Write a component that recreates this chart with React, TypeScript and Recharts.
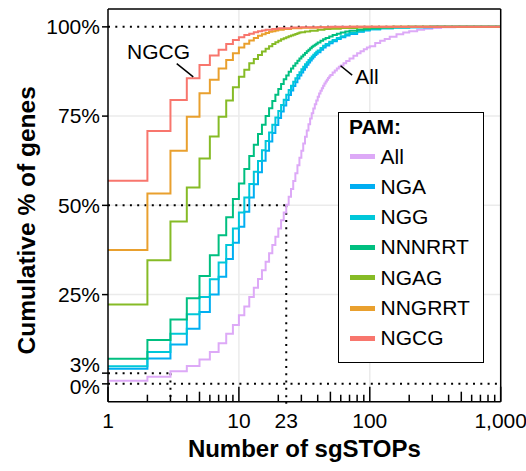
import { LineChart, Line, XAxis, YAxis, ReferenceLine, ReferenceDot, Legend } from "recharts";

const FONT = '"Liberation Sans", Arial, Helvetica, sans-serif';

const pamNames = ["All", "NGA", "NGG", "NNNRRT", "NGAG", "NNGRRT", "NGCG"];
const pamColors = ["#DDA9F7", "#00AEF2", "#00C7D9", "#00BF80", "#86BB26", "#E9A02E", "#F8766D"];

// cumulative % of genes with <= n sgSTOPs; the *Dense arrays start at n = 1 and go up by 1
const allDense = [
  0.9, 2.0, 3.5, 5.0, 6.8, 8.9, 11.4, 14.0, 16.5, 19.2,
  21.7, 24.3, 26.9, 29.4, 31.8, 34.2, 36.6, 38.9, 41.2, 43.5,
  45.8, 48.0, 50.2, 52.4, 54.6, 56.8, 59.0, 61.2, 63.3, 65.3,
  67.3, 69.2, 71.0, 72.7, 74.3, 75.8, 77.1, 78.3, 79.4, 80.4,
  81.3, 82.1, 82.8, 83.5, 84.1, 84.7, 85.2, 85.7, 86.1, 86.5,
];
const allTail = [
  [52, 87.2], [54, 87.8], [56, 88.3], [58, 88.8], [60, 89.2], [63, 89.8], [66, 90.4], [70, 91.1],
  [75, 91.9], [80, 92.6], [85, 93.2], [90, 93.7], [95, 94.2], [100, 94.6], [110, 95.5], [120, 96.1],
  [130, 96.6], [142, 97.2], [160, 97.9], [180, 98.4], [200, 98.8], [230, 99.2], [260, 99.5],
  [300, 99.7], [350, 99.9], [450, 100],
];

const ngaDense = [
  4.2, 7.1, 11.0, 15.4, 20.1, 25.0, 30.0, 35.0, 39.5, 44.0,
  48.2, 52.2, 55.9, 59.3, 62.5, 65.3, 67.9, 70.3, 72.5, 74.5,
  76.3, 78.0, 79.5, 80.9, 82.2, 83.4, 84.5, 85.5, 86.4, 87.2,
  88.0, 88.7, 89.4, 90.0, 90.6, 91.1, 91.6, 92.1, 92.5, 92.9,
];
const ngaTail = [
  [42, 93.6], [44, 94.2], [46, 94.8], [49, 95.4], [52, 96.0], [56, 96.6], [60, 97.1], [65, 97.6],
  [70, 98.0], [80, 98.6], [90, 99.0], [100, 99.3], [120, 99.6], [150, 99.8], [200, 99.9], [300, 100],
];

const nggDense = [
  4.9, 8.9, 14.0, 19.5, 24.3, 29.3, 34.0, 38.9, 43.5, 48.0,
  52.2, 56.0, 59.4, 62.4, 65.4, 68.0, 70.4, 72.6, 74.6, 76.4,
  78.1, 79.6, 81.0, 82.3, 83.5, 84.6, 85.6, 86.5, 87.3, 88.1,
  88.8, 89.5, 90.1, 90.7, 91.2, 91.7, 92.2, 92.6, 93.0, 93.4,
];
const nggTail = [
  [42, 94.1], [44, 94.7], [46, 95.2], [49, 95.8], [52, 96.3], [56, 96.9], [60, 97.4], [65, 97.9],
  [70, 98.3], [80, 98.8], [90, 99.1], [100, 99.35], [120, 99.6], [150, 99.8], [200, 99.9], [300, 100],
];

const nnnrrtDense = [
  7.0, 12.3, 18.0, 24.0, 30.2, 36.0, 41.6, 46.7, 51.8, 56.1,
  60.2, 63.8, 67.0, 70.0, 72.6, 75.0, 77.2, 79.2, 81.0, 82.6,
  84.0, 85.3, 86.4, 87.4, 88.3, 89.1, 89.8, 90.5, 91.1, 91.7,
  92.2, 92.7, 93.2, 93.6, 94.0, 94.4, 94.7, 95.0, 95.3, 95.6,
];
const nnnrrtTail = [
  [42, 96.1], [44, 96.5], [46, 96.9], [49, 97.3], [52, 97.7], [56, 98.1], [60, 98.4], [65, 98.7],
  [70, 98.9], [80, 99.2], [90, 99.4], [100, 99.6], [120, 99.8], [150, 99.9], [200, 100],
];

const ngagDense = [
  22.2, 34.6, 45.5, 55.0, 63.1, 69.3, 74.8, 79.4, 83.1, 86.0,
  88.0, 89.8, 91.0, 92.1, 93.1, 93.9, 94.6, 95.2, 95.7, 96.1,
  96.5, 96.8, 97.1, 97.4, 97.6, 97.8, 98.0, 98.2, 98.4, 98.5,
];
const ngagTail = [
  [32, 98.7], [35, 98.9], [40, 99.2], [45, 99.4], [50, 99.5], [60, 99.7], [80, 99.85], [100, 99.9], [150, 100],
];

const nngrrtDense = [
  37.5, 53.3, 65.3, 74.8, 81.4, 85.2, 88.3, 90.7, 92.6, 94.2,
  95.3, 96.2, 96.9, 97.5, 97.9, 98.3, 98.6, 98.8, 99.0, 99.2,
];
const nngrrtTail = [[22, 99.4], [25, 99.6], [30, 99.75], [40, 99.9], [70, 100]];

const ngcgDense = [
  56.9, 70.8, 79.5, 85.6, 89.3, 92.0, 93.6, 95.2, 96.3, 97.1,
  97.7, 98.1, 98.5, 98.8, 99.0, 99.2,
];
const ngcgTail = [[18, 99.4], [20, 99.6], [25, 99.8], [30, 99.9], [50, 100]];

const xTicks = [1, 2, 3, 4, 5, 6, 7, 8, 9, 10, 20, 23, 30, 40, 50, 60, 70, 80, 90, 100,
  200, 300, 400, 500, 600, 700, 800, 900, 1000];
const xLabels = [1, 10, 23, 100, 1000];
const yTicks = [0, 3, 25, 50, 75, 100];

// annotation anchors in data units
const ngcgText = { x: 2.43, y: 93.05 };
const ngcgLeader = [{ x: 3.35, y: 89.7 }, { x: 4.48, y: 86.0 }];
const allText = { x: 95.2, y: 86.0 };
const allLeader = [{ x: 59.8, y: 89.1 }, { x: 73.3, y: 86.5 }];

function toSteps(dense: number[], tail: number[][]) {
  const rows = dense.map((pct, i) => ({ n: i + 1, pct }));
  tail.forEach(([n, pct]) => rows.push({ n, pct }));
  rows.push({ n: 1000, pct: rows[rows.length - 1].pct });
  return rows;
}

const seriesData = [
  toSteps(allDense, allTail),
  toSteps(ngaDense, ngaTail),
  toSteps(nggDense, nggTail),
  toSteps(nnnrrtDense, nnnrrtTail),
  toSteps(ngagDense, ngagTail),
  toSteps(nngrrtDense, nngrrtTail),
  toSteps(ngcgDense, ngcgTail),
];

const dotted = { stroke: "#000", strokeWidth: 2, strokeDasharray: "2 5.3" };
const grid = { stroke: "#EBEBEB", strokeWidth: 1.5 };

function XTick({ x, y, payload }: any) {
  const v = payload.value;
  const lg = Math.log10(v);
  const major = Math.abs(lg - Math.round(lg)) < 1e-9;
  const len = v === 23 ? 0 : major ? 15 : String(v)[0] === "5" ? 10 : 7;
  return (
    <g>
      {len > 0 && <line x1={x} x2={x} y1={y} y2={y - len} stroke="#000" strokeWidth={1.5} />}
      {v === 23 && <line x1={x} x2={x} y1={y} y2={y + 5} {...dotted} />}
      {xLabels.includes(v) && (
        <text x={x} y={y + 26.6} textAnchor="middle" fontSize={21} fontFamily={FONT} fill="#000">
          {v.toLocaleString("en-US")}
        </text>
      )}
    </g>
  );
}

function YTick({ x, y, payload }: any) {
  const v = payload.value;
  // ggplot nudged the 3% and 0% labels apart so they don't collide
  const dy = v === 3 ? -0.8 : v === 0 ? 10.5 : 7.3;
  return (
    <g>
      <line x1={x - 6} x2={x} y1={y} y2={y} stroke="#000" strokeWidth={1.5} />
      <text x={x - 8} y={y + dy} textAnchor="end" fontSize={21} fontFamily={FONT} fill="#000">
        {v}%
      </text>
    </g>
  );
}

function PamLegend({ payload }: any) {
  const items = [...(payload || [])].sort(
    (a: any, b: any) => pamNames.indexOf(a.value) - pamNames.indexOf(b.value)
  );
  return (
    <div
      style={{
        position: "relative", width: 146, height: 251, boxSizing: "border-box",
        border: "1.5px solid #000", background: "#fff", fontFamily: FONT, color: "#000",
      }}
    >
      <div style={{ position: "absolute", left: 10, top: -1, height: 30, lineHeight: "30px", fontSize: 21, fontWeight: 700 }}>
        PAM:
      </div>
      {items.map((it: any, i: number) => (
        <div key={it.value} style={{ position: "absolute", left: 0, top: 28.5 + 30.3 * i, height: 30, width: 140 }}>
          <div style={{ position: "absolute", left: 10.5, top: 12.5, width: 25, height: 5, background: it.color }} />
          <div style={{ position: "absolute", left: 41.5, top: 0, lineHeight: "30px", fontSize: 21 }}>{it.value}</div>
        </div>
      ))}
    </div>
  );
}

export default function App() {
  return (
    <div style={{ position: "absolute", left: 0, top: 0, width: 526, height: 471, background: "#fff" }}>
      <LineChart width={526} height={471} margin={{ top: 9, right: 25.3, bottom: 0, left: 0 }}>
        <XAxis
          type="number"
          dataKey="n"
          scale="log"
          domain={[1, 1000]}
          ticks={xTicks}
          interval={0}
          height={69.3}
          tickSize={0}
          tickMargin={0}
          tick={<XTick />}
          axisLine={{ stroke: "#000", strokeWidth: 1.5 }}
          tickLine={false}
          allowDataOverflow
          label={(p: any) => {
            const vb = p.viewBox || { x: 108, y: 401.7, width: 392.7 };
            return (
              <text x={vb.x + vb.width / 2} y={vb.y + 55} textAnchor="middle" fontSize={24} fontWeight={700} fontFamily={FONT} fill="#000">
                Number of sgSTOPs
              </text>
            );
          }}
        />
        <YAxis
          type="number"
          domain={[-5, 105]}
          ticks={yTicks}
          interval={0}
          width={108}
          tickSize={0}
          tickMargin={0}
          tick={<YTick />}
          axisLine={{ stroke: "#000", strokeWidth: 1.5 }}
          tickLine={false}
          allowDataOverflow
          label={(p: any) => {
            const vb = p.viewBox || { x: 0, y: 9, height: 392.7 };
            const cx = vb.x + 35;
            const cy = vb.y + vb.height / 2 + 15;
            return (
              <text x={cx} y={cy} transform={`rotate(-90, ${cx}, ${cy})`} textAnchor="middle" fontSize={24.5} fontWeight={700} fontFamily={FONT} fill="#000">
                Cumulative % of genes
              </text>
            );
          }}
        />

        <ReferenceLine y={25} {...grid} />
        <ReferenceLine y={50} {...grid} />
        <ReferenceLine y={75} {...grid} />
        <ReferenceLine x={10} {...grid} />
        <ReferenceLine x={100} {...grid} />

        <ReferenceLine y={100} {...dotted} />
        <ReferenceLine y={0} {...dotted} />
        <ReferenceLine segment={[{ x: 1, y: 50 }, { x: 23, y: 50 }]} {...dotted} />
        <ReferenceLine segment={[{ x: 23, y: 50 }, { x: 23, y: -5 }]} {...dotted} />
        <ReferenceLine segment={[{ x: 1, y: 3 }, { x: 3, y: 3 }]} {...dotted} />
        <ReferenceLine segment={[{ x: 3, y: 3 }, { x: 3, y: -5 }]} {...dotted} />

        {pamNames.map((name, i) => (
          <Line
            key={name}
            name={name}
            data={seriesData[i]}
            dataKey="pct"
            type="stepAfter"
            stroke={pamColors[i]}
            strokeWidth={2}
            dot={false}
            activeDot={false}
            isAnimationActive={false}
          />
        ))}

        <ReferenceLine y={105} stroke="#000" strokeWidth={1.5} />
        <ReferenceLine x={1000} stroke="#000" strokeWidth={1.5} />

        <ReferenceLine segment={ngcgLeader} stroke="#000" strokeWidth={1.5} />
        <ReferenceLine segment={allLeader} stroke="#000" strokeWidth={1.5} />
        <ReferenceDot
          x={ngcgText.x}
          y={ngcgText.y}
          r={0}
          fill="none"
          stroke="none"
          label={(p: any) => (
            <text x={p.viewBox.x + (p.viewBox.width || 0) / 2} y={p.viewBox.y + (p.viewBox.height || 0) / 2 + 7.5} textAnchor="middle" fontSize={21} fontFamily={FONT} fill="#000">
              NGCG
            </text>
          )}
        />
        <ReferenceDot
          x={allText.x}
          y={allText.y}
          r={0}
          fill="none"
          stroke="none"
          label={(p: any) => (
            <text x={p.viewBox.x + (p.viewBox.width || 0) / 2} y={p.viewBox.y + (p.viewBox.height || 0) / 2 + 7.5} textAnchor="middle" fontSize={21} fontFamily={FONT} fill="#000">
              All
            </text>
          )}
        />

        <Legend
          layout="vertical"
          align="center"
          verticalAlign="middle"
          wrapperStyle={{ left: 338, top: 112, width: 146, height: 251 }}
          content={<PamLegend />}
        />
      </LineChart>
    </div>
  );
}
